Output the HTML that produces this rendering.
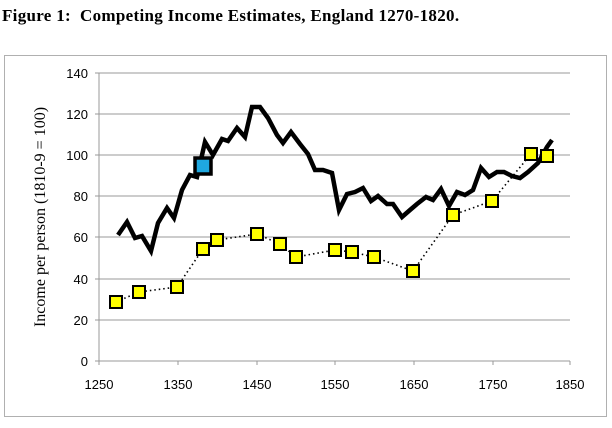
<!DOCTYPE html>
<html><head><style>body{margin:0;background:#fff}</style></head><body>
<svg width="612" height="423" xmlns="http://www.w3.org/2000/svg">
<rect width="612" height="423" fill="#fff"/>
<text x="2" y="21" font-family="Liberation Serif, serif" font-weight="bold" font-size="17" letter-spacing="0.3">Figure 1:&#160; Competing Income Estimates, England 1270-1820.</text>
<rect x="4.5" y="55.5" width="602" height="361" fill="none" stroke="#b0b0b0" stroke-width="1"/>
<g stroke="#999" stroke-width="1">
<line x1="99" y1="73" x2="570" y2="73"/><line x1="99" y1="114" x2="570" y2="114"/>
<line x1="99" y1="155" x2="570" y2="155"/><line x1="99" y1="196" x2="570" y2="196"/>
<line x1="99" y1="237" x2="570" y2="237"/><line x1="99" y1="279" x2="570" y2="279"/>
<line x1="99" y1="320" x2="570" y2="320"/><line x1="99" y1="361" x2="570" y2="361"/>
<line x1="99" y1="73" x2="99" y2="361"/>
<line x1="95" y1="73" x2="99" y2="73"/><line x1="95" y1="114" x2="99" y2="114"/><line x1="95" y1="155" x2="99" y2="155"/><line x1="95" y1="196" x2="99" y2="196"/><line x1="95" y1="237" x2="99" y2="237"/><line x1="95" y1="279" x2="99" y2="279"/><line x1="95" y1="320" x2="99" y2="320"/><line x1="95" y1="361" x2="99" y2="361"/>
<line x1="99" y1="361" x2="99" y2="365"/><line x1="178" y1="361" x2="178" y2="365"/><line x1="257" y1="361" x2="257" y2="365"/><line x1="335" y1="361" x2="335" y2="365"/><line x1="414" y1="361" x2="414" y2="365"/><line x1="493" y1="361" x2="493" y2="365"/><line x1="570" y1="361" x2="570" y2="365"/>
</g>
<g font-family="Liberation Sans, sans-serif" font-size="13" text-anchor="end">
<text x="88" y="78">140</text><text x="88" y="119">120</text><text x="88" y="160">100</text><text x="88" y="201">80</text><text x="88" y="242">60</text><text x="88" y="284">40</text><text x="88" y="325">20</text><text x="88" y="366">0</text>
</g>
<g font-family="Liberation Sans, sans-serif" font-size="13" text-anchor="middle">
<text x="99" y="389">1250</text><text x="178" y="389">1350</text><text x="257" y="389">1450</text><text x="335" y="389">1550</text><text x="414" y="389">1650</text><text x="493" y="389">1750</text><text x="570" y="389">1850</text>
</g>
<text transform="translate(45,217) rotate(-90)" font-family="Liberation Serif, serif" font-size="16" text-anchor="middle">Income per person (1810-9 = 100)</text>
<polyline fill="none" stroke="#000" stroke-width="1.6" stroke-dasharray="1.5,3" points="116,302 139,292 177,287 203,249 217,240 257,234 280,244 296,257 335,250 352,252 374,257 413,271 453,215 492,201 531,154 547,156"/>
<polyline fill="none" stroke="#000" stroke-width="4.5" stroke-linejoin="miter" points="118,235 127,222 135,238 142,236 151,251 158,223 167,208 174,218 182,190 190,175 197,177 205,142 213,155 222,139 228,141 237,128 245,137 252,107 260,107 268,118 277,135 283,143 291,132 300,144 308,154 315,170 323,170 332,173 339,210 347,194 355,192 363,188 371,201 378,196 387,204 393,204 402,217 410,210 417,204 426,197 433,200 441,189 449,206 457,192 465,195 473,190 481,168 489,177 497,172 504,172 512,176 520,178 528,172 538,163 547,147 552,140"/>
<g fill="#ffff00" stroke="#000" stroke-width="2">
<rect x="110" y="296" width="12" height="12"/><rect x="133" y="286" width="12" height="12"/><rect x="171" y="281" width="12" height="12"/><rect x="197" y="243" width="12" height="12"/><rect x="211" y="234" width="12" height="12"/><rect x="251" y="228" width="12" height="12"/><rect x="274" y="238" width="12" height="12"/><rect x="290" y="251" width="12" height="12"/><rect x="329" y="244" width="12" height="12"/><rect x="346" y="246" width="12" height="12"/><rect x="368" y="251" width="12" height="12"/><rect x="407" y="265" width="12" height="12"/><rect x="447" y="209" width="12" height="12"/><rect x="486" y="195" width="12" height="12"/><rect x="525" y="148" width="12" height="12"/><rect x="541" y="150" width="12" height="12"/>
</g>
<rect x="195" y="158" width="16" height="16" fill="#1fa8e0" stroke="#000" stroke-width="3.5"/>
</svg>
</body></html>
